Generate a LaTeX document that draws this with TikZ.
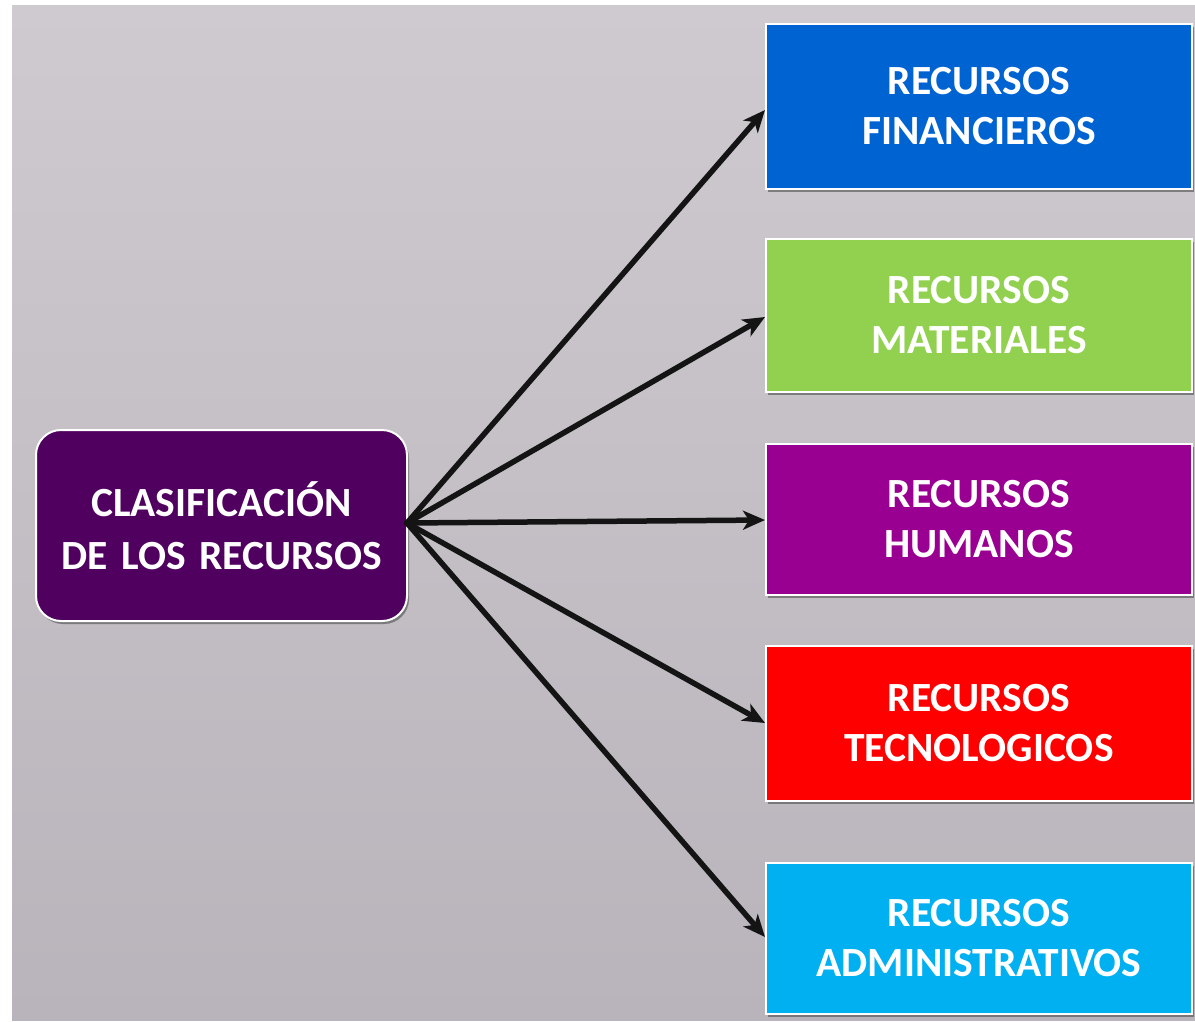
\documentclass[tikz,border=0pt]{standalone}
\usepackage{fontspec}
\setmainfont{Carlito}
\usetikzlibrary{arrows.meta,shadows}
\definecolor{bgtop}{RGB}{206,202,207}
\definecolor{bgbot}{RGB}{185,180,187}
\definecolor{cfin}{RGB}{0,99,210}
\definecolor{cmat}{RGB}{146,208,80}
\definecolor{chum}{RGB}{153,0,145}
\definecolor{ctec}{RGB}{255,0,0}
\definecolor{cadm}{RGB}{0,176,240}
\definecolor{ccen}{RGB}{80,0,95}
\tikzset{
  catbox/.style={draw=white, line width=2pt, minimum width=426pt, text width=420pt, align=center,
    font=\fontsize{41.5}{50}\selectfont\bfseries, text=white, inner sep=0pt,
    drop shadow={shadow xshift=2pt, shadow yshift=-3pt, opacity=0.6, fill=black!70}},
  rootbox/.style={draw=white, line width=2pt, rounded corners=25pt, fill=ccen,
    minimum width=371pt, minimum height=191pt, text width=365pt, align=center,
    font=\fontsize{41.5}{53}\selectfont\bfseries, text=white, inner sep=0pt,
    drop shadow={shadow xshift=2pt, shadow yshift=-3pt, opacity=0.6, fill=black!70}},
  link/.style={line width=5.5pt, draw=black!92, -{Stealth[length=22pt,width=19pt,inset=6pt]}, shorten <=-2pt}
}
\begin{document}
\begin{tikzpicture}[x=1pt,y=-1pt]
\useasboundingbox (0,0) rectangle (1195,1021);
\fill[white] (0,0) rectangle (1195,1021);
\shade[top color=bgtop, bottom color=bgbot] (12,5) rectangle (1195,1020);
\node[rootbox] (root) at (221.5,525.5) {CLASIFICACIÓN\\DE LOS RECURSOS};
\node[catbox, fill=cfin, minimum height=165pt] (fin) at (979,106.5) {RECURSOS\\FINANCIEROS};
\node[catbox, fill=cmat, minimum height=153pt] (mat) at (979,315.5) {RECURSOS\\MATERIALES};
\node[catbox, fill=chum, minimum height=151pt] (hum) at (979,519.5) {RECURSOS\\HUMANOS};
\node[catbox, fill=ctec, minimum height=155pt] (tec) at (979,723.5) {RECURSOS\\TECNOLOGICOS};
\node[catbox, fill=cadm, minimum height=151pt] (adm) at (979,938.5) {RECURSOS\\ADMINISTRATIVOS};
\coordinate (hub) at (407,523);
\draw[link] (hub) -- (fin.west |- 0,110);
\draw[link] (hub) -- (mat.west |- 0,317);
\draw[link] (hub) -- (hum.west |- 0,520);
\draw[link] (hub) -- (tec.west |- 0,723);
\draw[link] (hub) -- (adm.west |- 0,937);
\end{tikzpicture}
\end{document}
